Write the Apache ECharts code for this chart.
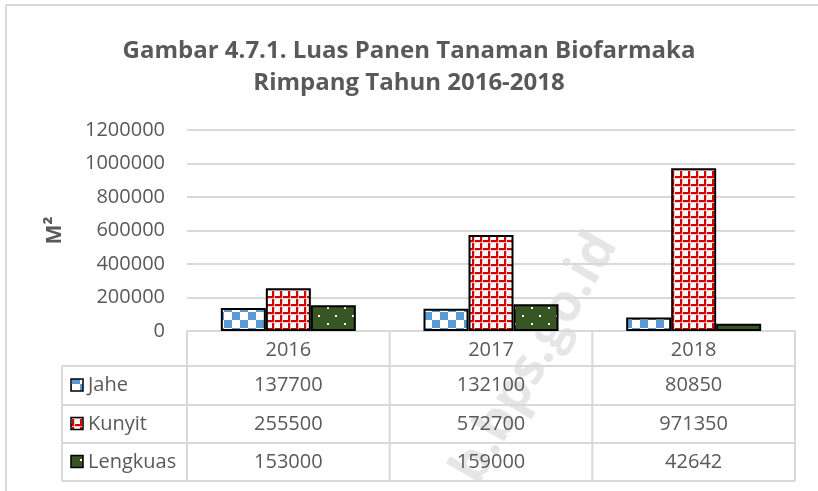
<!DOCTYPE html>
<html>
<head>
<meta charset="utf-8">
<script src="https://cdn.jsdelivr.net/npm/echarts@6/dist/echarts.min.js"></script>
<style>html,body{margin:0;padding:0;background:#fff;}#c{width:818px;height:491px;}</style>
</head>
<body>
<div id="c"></div>
<script>
const categories = ['2016', '2017', '2018'];
const seriesNames = ['Jahe', 'Kunyit', 'Lengkuas'];
const jahe = [137700, 132100, 80850];
const kunyit = [255500, 572700, 971350];
const lengkuas = [153000, 159000, 42642];
const yMax = 1200000;
const yStep = 200000;
const titleText = 'Gambar 4.7.1. Luas Panen Tanaman Biofarmaka\nRimpang Tahun 2016-2018';
const yName = 'M²';

const FONT = 'Open Sans';
const TXT = '#595959';
const LINE = '#D9D9D9';
const FS = 20;

function mk(w, h, draw) {
  const c = document.createElement('canvas');
  c.width = w; c.height = h;
  draw(c.getContext('2d'));
  return c;
}
const jahePat = mk(16, 16, g => {
  g.fillStyle = '#fff'; g.fillRect(0, 0, 16, 16);
  g.fillStyle = '#5B9BD5'; g.fillRect(0, 0, 8, 8); g.fillRect(8, 8, 8, 8);
});
const kunyitPat = mk(8, 8, g => {
  g.fillStyle = '#fff'; g.fillRect(0, 0, 8, 8);
  g.fillStyle = '#D40000'; g.fillRect(0, 0, 8, 2); g.fillRect(0, 0, 2, 8);
  g.fillStyle = '#F6C8C8'; g.fillRect(0, 2, 8, 1); g.fillRect(2, 0, 1, 8);
});
const lengPat = mk(17, 16, g => {
  g.fillStyle = '#375623'; g.fillRect(0, 0, 17, 16);
  g.fillStyle = '#fff'; g.fillRect(4, 3, 2, 2); g.fillRect(12, 11, 2, 2);
});
const pats = [jahePat, kunyitPat, lengPat];
const datas = [jahe, kunyit, lengkuas];

const chart = echarts.init(document.getElementById('c'), null, {renderer: 'canvas'});
const gridL = 187, gridR = 23, gridT = 130, gridB = 160;

chart.setOption({
  backgroundColor: '#fff',
  animation: false,
  title: {
    text: titleText, left: 'center', top: 30,
    textStyle: {fontFamily: FONT, fontSize: 24, fontWeight: 'bold', color: TXT, lineHeight: 32}
  },
  grid: {left: gridL, right: gridR, top: gridT, bottom: gridB, containLabel: false},
  xAxis: {
    type: 'category', data: categories,
    axisLine: {lineStyle: {color: LINE, width: 2}},
    axisTick: {show: false},
    axisLabel: {fontFamily: FONT, fontSize: FS, color: TXT, margin: 8, lineHeight: 22}
  },
  yAxis: {
    type: 'value', min: 0, max: yMax, interval: yStep,
    name: yName, nameLocation: 'middle', nameGap: 121, nameRotate: 90,
    nameTextStyle: {fontFamily: FONT, fontSize: 21, fontWeight: 'bold', color: TXT},
    axisLine: {show: false}, axisTick: {show: false},
    axisLabel: {fontFamily: FONT, fontSize: FS, color: TXT, margin: 22, formatter: v => String(v)},
    splitLine: {lineStyle: {color: LINE, width: 2}}
  },
  series: seriesNames.map((n, i) => ({
    name: n, type: 'bar', data: datas[i], barWidth: 45, barGap: '0%',
    itemStyle: {color: {image: pats[i], repeat: 'repeat'}, borderColor: '#000', borderWidth: 2}
  }))
});

// Data table below the axis
const x0 = gridL, x1 = 818 - gridR;
const yAxisY = 491 - gridB;
const rowLines = [366, 405, 443, 481];
const tableLeft = 62;
const els = [];
const lineStyle = {stroke: LINE, lineWidth: 2};
for (let i = 0; i <= categories.length; i++) {
  const x = x0 + (x1 - x0) * i / categories.length;
  els.push({type: 'line', shape: {x1: x, y1: yAxisY, x2: x, y2: rowLines[rowLines.length - 1]}, style: lineStyle, silent: true});
}
els.push({type: 'line', shape: {x1: tableLeft, y1: rowLines[0], x2: tableLeft, y2: rowLines[rowLines.length - 1]}, style: lineStyle, silent: true});
rowLines.forEach(y => {
  els.push({type: 'line', shape: {x1: tableLeft, y1: y, x2: x1, y2: y}, style: lineStyle, silent: true});
});
seriesNames.forEach((n, r) => {
  const yc = (rowLines[r] + rowLines[r + 1]) / 2;
  els.push({type: 'rect', shape: {x: 71, y: yc - 6.5, width: 12, height: 12},
    style: {fill: {image: pats[r], repeat: 'repeat'}, stroke: '#000', lineWidth: 1.5}, silent: true});
  els.push({type: 'text', x: 88, y: yc, style: {text: n, fontFamily: FONT, fontSize: FS, fill: TXT, align: 'left', verticalAlign: 'middle'}, silent: true});
  categories.forEach((c, ci) => {
    const xc = chart.convertToPixel({xAxisIndex: 0}, c);
    els.push({type: 'text', x: xc, y: yc, style: {text: String(datas[r][ci]), fontFamily: FONT, fontSize: FS, fill: TXT, align: 'center', verticalAlign: 'middle'}, silent: true});
  });
});
els.push({type: 'line', shape: {x1: 6, y1: 5, x2: 818, y2: 5}, style: {stroke: LINE, lineWidth: 2}, silent: true});
els.push({type: 'line', shape: {x1: 6, y1: 5, x2: 6, y2: 491}, style: {stroke: LINE, lineWidth: 2}, silent: true});
els.push({type: 'text', x: 488, y: 492, rotation: 60 * Math.PI / 180, z: -1,
  style: {text: 'b.bps.go.id', fontFamily: FONT, fontSize: 52, fontWeight: 'bold', fill: '#E6E6E6', align: 'left', verticalAlign: 'bottom'}, silent: true});

chart.setOption({graphic: {elements: els}});
</script>
</body>
</html>
